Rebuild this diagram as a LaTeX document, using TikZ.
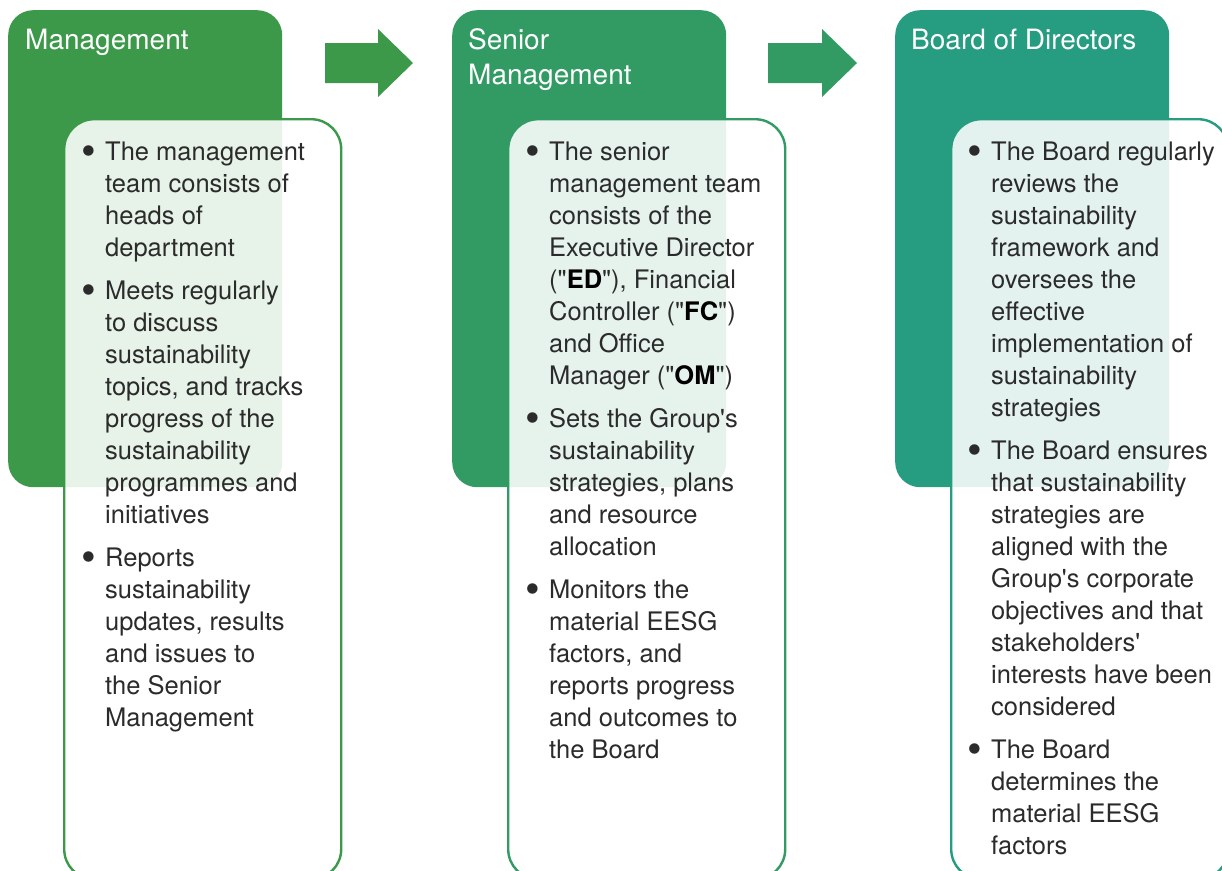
\documentclass[tikz,border=0pt]{standalone}
\usepackage{fontspec}
\setmainfont{TeX Gyre Heros}
\usetikzlibrary{positioning}
\definecolor{mgmtgreen}{RGB}{59,153,73}
\definecolor{seniorgreen}{RGB}{50,155,100}
\definecolor{boardgreen}{RGB}{38,156,128}
\definecolor{bodygray}{RGB}{43,43,43}
\newcommand{\bul}{\makebox[24pt][l]{\raisebox{-5pt}{\scalebox{1.65}{\textbullet}}}}
\newcommand{\q}{\textquotedbl}
\newcommand{\ap}{\textquotesingle}

\begin{document}
\begin{tikzpicture}[x=1pt,y=-1pt,
    head box/.style={rectangle,rounded corners=25pt,minimum width=274pt,
                     minimum height=477pt,inner sep=0pt,anchor=north west},
    list box/.style={rectangle,draw,line width=2.4pt,rounded corners=30pt,
                     fill=white,fill opacity=0.88,minimum width=277pt,
                     minimum height=760pt,inner sep=0pt},
    title/.style={text=white,inner sep=0pt,anchor=base west,
                  font=\fontsize{28}{35}\selectfont},
    list/.style={text=bodygray,inner sep=0pt,anchor=base west,
                 font=\fontsize{25.5}{32}\selectfont}]
  \useasboundingbox (0,0) rectangle (1222,870);

  % management
  \node[head box,fill=mgmtgreen] (1) at (8,10) {};
  \node[list box,draw=mgmtgreen,below right=108pt and 55pt of 1.north west] (w1) {};
  \node[title] (t1) at ([xshift=17pt,yshift=-39pt]1.north west) {Management};
  \node[list] (l1) at ([xshift=18pt,yshift=-42pt]w1.north west) {%
    \begin{tabular}[t]{@{}l@{}l@{}}
      \bul & The management\\
           & team consists of\\
           & heads of\\
           & department\\[11pt]
      \bul & Meets regularly\\
           & to discuss\\
           & sustainability\\
           & topics, and tracks\\
           & progress of the\\
           & sustainability\\
           & programmes and\\
           & initiatives\\[11pt]
      \bul & Reports\\
           & sustainability\\
           & updates, results\\
           & and issues to\\
           & the Senior\\
           & Management
    \end{tabular}};

  % senior management
  \node[head box,fill=seniorgreen] (2) at (452,10) {};
  \node[list box,draw=seniorgreen,below right=108pt and 55pt of 2.north west] (w2) {};
  \node[title] (t2) at ([xshift=16pt,yshift=-39pt]2.north west) {%
    \begin{tabular}[t]{@{}l@{}}Senior\\Management\end{tabular}};
  \node[list] (l2) at ([xshift=18pt,yshift=-42pt]w2.north west) {%
    \begin{tabular}[t]{@{}l@{}l@{}}
      \bul & The senior\\
           & management team\\
           & consists of the\\
           & Executive Director\\
           & (\q\textbf{\color{black}ED}\q), Financial\\
           & Controller (\q\textbf{\color{black}FC}\q)\\
           & and Office\\
           & Manager (\q\textbf{\color{black}OM}\q)\\[11pt]
      \bul & Sets the Group\ap s\\
           & sustainability\\
           & strategies, plans\\
           & and resource\\
           & allocation\\[11pt]
      \bul & Monitors the\\
           & material EESG\\
           & factors, and\\
           & reports progress\\
           & and outcomes to\\
           & the Board
    \end{tabular}};

  % board of directors
  \node[head box,fill=boardgreen] (3) at (895,10) {};
  \node[list box,draw=boardgreen,below right=108pt and 55pt of 3.north west] (w3) {};
  \node[title] (t3) at ([xshift=16pt,yshift=-39pt]3.north west) {Board of Directors};
  \node[list] (l3) at ([xshift=17pt,yshift=-42pt]w3.north west) {%
    \begin{tabular}[t]{@{}l@{}l@{}}
      \bul & The Board regularly\\
           & reviews the\\
           & sustainability\\
           & framework and\\
           & oversees the\\
           & effective\\
           & implementation of\\
           & sustainability\\
           & strategies\\[11pt]
      \bul & The Board ensures\\
           & that sustainability\\
           & strategies are\\
           & aligned with the\\
           & Group\ap s corporate\\
           & objectives and that\\
           & stakeholders\ap\\
           & interests have been\\
           & considered\\[11pt]
      \bul & The Board\\
           & determines the\\
           & material EESG\\
           & factors
    \end{tabular}};

  % arrows between the levels
  \fill[mgmtgreen] (325,43) -- ++(53,0) -- ++(0,-14) -- ++(35,34)
    -- ++(-35,34) -- ++(0,-14) -- ++(-53,0) -- cycle;
  \fill[seniorgreen] (768,43) -- ++(54,0) -- ++(0,-14) -- ++(35,34)
    -- ++(-35,34) -- ++(0,-14) -- ++(-54,0) -- cycle;

\end{tikzpicture}
\end{document}
